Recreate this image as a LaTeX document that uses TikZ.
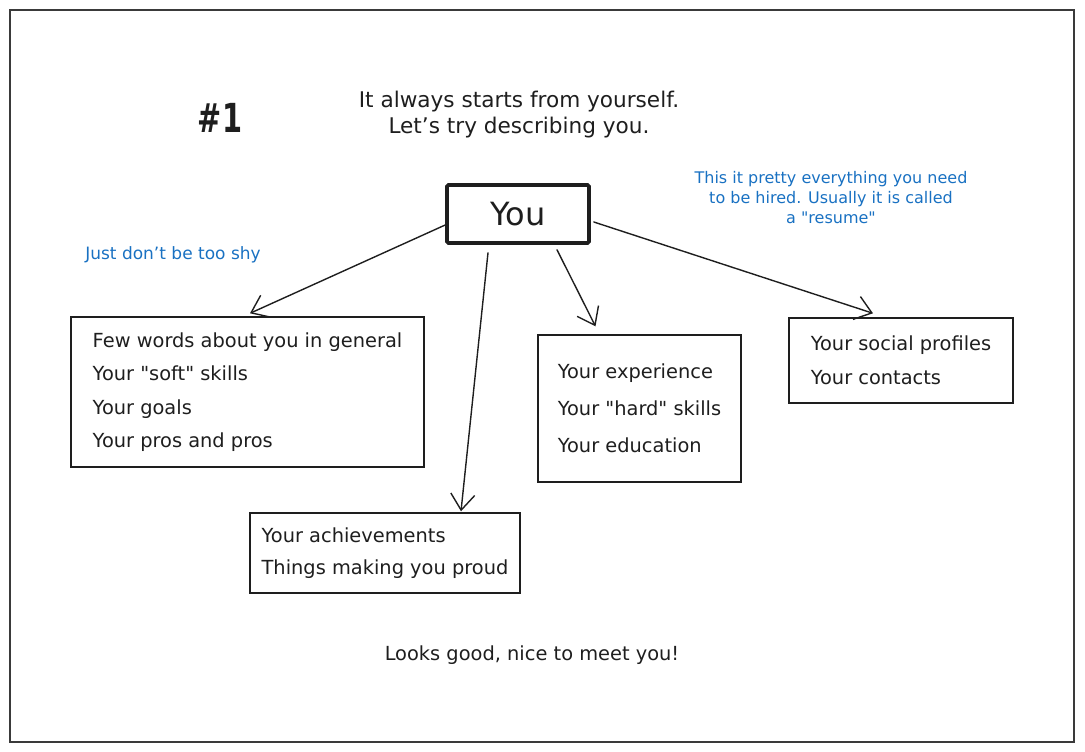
\documentclass[tikz,border=0pt]{standalone}
\usepackage{fontspec}
\setmainfont{DejaVu Sans}
% same face without the TeX quote mapping, for straight double quotes
\newfontfamily\qfont{DejaVu Sans}
\usetikzlibrary{arrows.meta}
\definecolor{ink}{HTML}{1E1E1E}
\definecolor{note}{HTML}{1971C2}
\definecolor{frame}{HTML}{3A3A3A}
\newcommand{\sq}{{\qfont\symbol{34}}}
\begin{document}
\begin{tikzpicture}[x=1pt,y=-1pt,
  card/.style={draw=ink, line width=1.4pt, align=left, text=ink, inner sep=0pt,
    font=\fontsize{19.4}{33.5}\selectfont},
  heading/.style={text=ink, align=center, inner sep=0pt},
  remark/.style={text=note, align=center, inner sep=0pt, font=\fontsize{16}{20}\selectfont},
  arr/.style={draw=ink, line width=1.4pt, line cap=round,
    -{Straight Barb[length=16pt,width=24pt,line width=1.4pt]}}]
\useasboundingbox (0,0) rectangle (1085,752);

% page frame
\node[draw=frame, line width=1.6pt, minimum width=1064pt, minimum height=732pt, inner sep=0pt]
  (page) at (542,376) {};

% titles and notes
\node[heading, font=\bfseries\fontsize{40}{40}\selectfont] (num) at (220,118) {\scalebox{0.72}[1]{\#1}};
\node[heading, font=\fontsize{21.6}{26}\selectfont] (intro) at (519,115)
  {It always starts from yourself.\\Let’s try describing you.};
\node[remark] (resume) at (831,198)
  {This it pretty everything you need\\to be hired. Usually it is called\\a \sq resume\sq};
\node[remark, font=\fontsize{17}{20}\selectfont] (shy) at (173,255) {Just don’t be too shy};
\node[heading, font=\fontsize{19.4}{24}\selectfont] (outro) at (532,655) {Looks good, nice to meet you!};

% central node
\node[draw=ink, line width=3.6pt, rounded corners=1.5pt, minimum width=142pt, minimum height=58pt,
  text=ink, font=\fontsize{32}{32}\selectfont] (you) at (518,214) {You};

% topic cards
\node[card, minimum width=353pt, minimum height=150pt] (general) at (247.5,392)
  {Few words about you in general\\Your \sq soft\sq\ skills\\Your goals\\Your pros and pros};
\node[card, minimum width=203pt, minimum height=147pt,
  font=\fontsize{19.4}{37}\selectfont] (work) at (639.5,408.5)
  {Your experience\\Your \sq hard\sq\ skills\\Your education};
\node[card, minimum width=224pt, minimum height=85pt,
  font=\fontsize{19.4}{34}\selectfont] (social) at (901,360.5)
  {Your social profiles\\Your contacts};
\node[card, minimum width=270pt, minimum height=80pt,
  font=\fontsize{19.4}{32}\selectfont] (proud) at (385,553)
  {Your achievements\\Things making you proud};

% connectors
\draw[arr] ([yshift=-11pt]you.west) -- ([xshift=2.5pt,yshift=3pt]general.north);
\draw[arr] ([xshift=-30pt,yshift=-8pt]you.south) -- ([xshift=76pt,yshift=1pt]proud.north);
\draw[arr] ([xshift=39pt,yshift=-5pt]you.south) -- ([xshift=-44pt,yshift=8pt]work.north);
\draw[arr] ([xshift=3pt,yshift=-8pt]you.east) -- ([xshift=-28pt,yshift=4pt]social.north);
\end{tikzpicture}
\end{document}
